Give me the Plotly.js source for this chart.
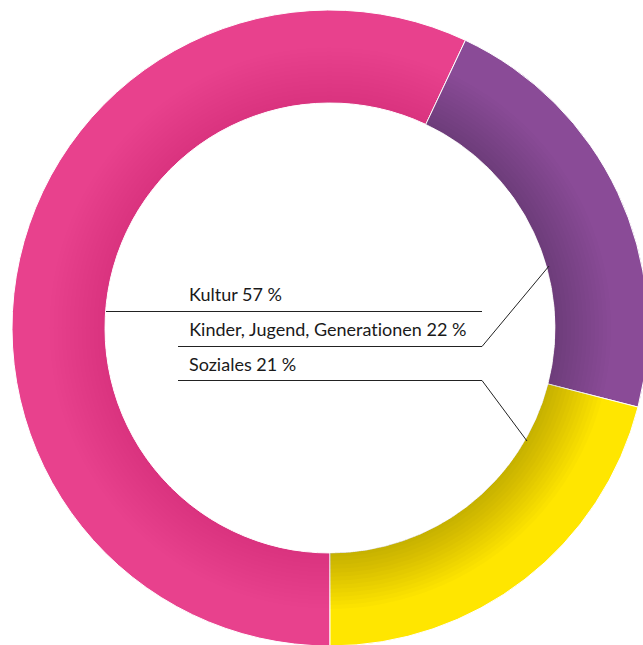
<!DOCTYPE html>
<html>
<head>
<meta charset="utf-8">
<script src="https://cdn.plot.ly/plotly-3.0.1.min.js"></script>
<style>
html,body{margin:0;padding:0;overflow:hidden;background:#fff;width:643px;height:645px;}
#chart{width:660px;height:660px;}
#chart text{font-variant-ligatures:none;font-feature-settings:"liga" 0;}
</style>
</head>
<body>
<div id="chart"></div>
<script>
// Data
const categories = ["Kultur", "Kinder, Jugend, Generationen", "Soziales"];
const shares = [57, 22, 21];
const labelTexts = ["Kultur 57 %", "Kinder, Jugend, Generationen 22 %", "Soziales 21 %"];
const colors = ["#E8418D", "#8A4B97", "#FFE600"];
// per-slice strength of the inner shadow (styling)
const shadeAlpha = [0.005, 0.013, 0.017];

const W = 660, H = 660;
const px = x => x / W;
const py = y => 1 - y / H;

const cx = 330, cy = 328, R = 318, r = 225;

function dom(rad) {
  return {x: [px(cx - rad), px(cx + rad)], y: [py(cy + rad), py(cy - rad)]};
}

const traces = [{
  type: "pie",
  labels: categories,
  values: shares,
  sort: false,
  direction: "clockwise",
  rotation: 180,
  hole: r / R,
  textinfo: "none",
  hoverinfo: "label+percent",
  marker: {colors: colors, line: {color: "#ffffff", width: 1}},
  domain: dom(R),
  showlegend: false
}];

// inner shadow: stacked translucent rings over the same slices
const ringOuter = [229, 233, 237, 241, 245, 249, 253, 257, 261, 265, 269, 273, 277, 281];
ringOuter.forEach(ro => {
  traces.push({
    type: "pie",
    labels: categories,
    values: shares,
    sort: false,
    direction: "clockwise",
    rotation: 180,
    hole: r / ro,
    textinfo: "none",
    hoverinfo: "skip",
    marker: {colors: shadeAlpha.map(a => "rgba(0,0,0," + a + ")"), line: {width: 0}},
    domain: dom(ro),
    showlegend: false
  });
});

const lineColor = "#222222";
function seg(x0, y0, x1, y1) {
  return {type: "line", xref: "paper", yref: "paper", x0: px(x0), y0: py(y0), x1: px(x1), y1: py(y1),
    line: {color: lineColor, width: 1}};
}
const layoutShapes = [
  seg(106, 311.5, 482, 311.5),
  seg(178, 346.5, 482, 346.5),
  seg(482, 346.5, 549, 266),
  seg(178, 380.5, 482, 380.5),
  seg(482, 380.5, 527, 441)
];

const textY = [294, 329, 364];
const annotations = labelTexts.map((t, i) => ({
  text: t, xref: "paper", yref: "paper", x: px(187), y: py(textY[i]),
  xanchor: "left", yanchor: "middle", showarrow: false,
  font: {family: "Lato, 'Open Sans', sans-serif", size: 18, color: "#1a1a1a"}
}));

Plotly.newPlot("chart", traces, {
  width: W, height: H,
  margin: {l: 0, r: 0, t: 0, b: 0},
  paper_bgcolor: "#ffffff",
  shapes: layoutShapes,
  annotations: annotations,
  showlegend: false
}, {staticPlot: true});
</script>
</body>
</html>
